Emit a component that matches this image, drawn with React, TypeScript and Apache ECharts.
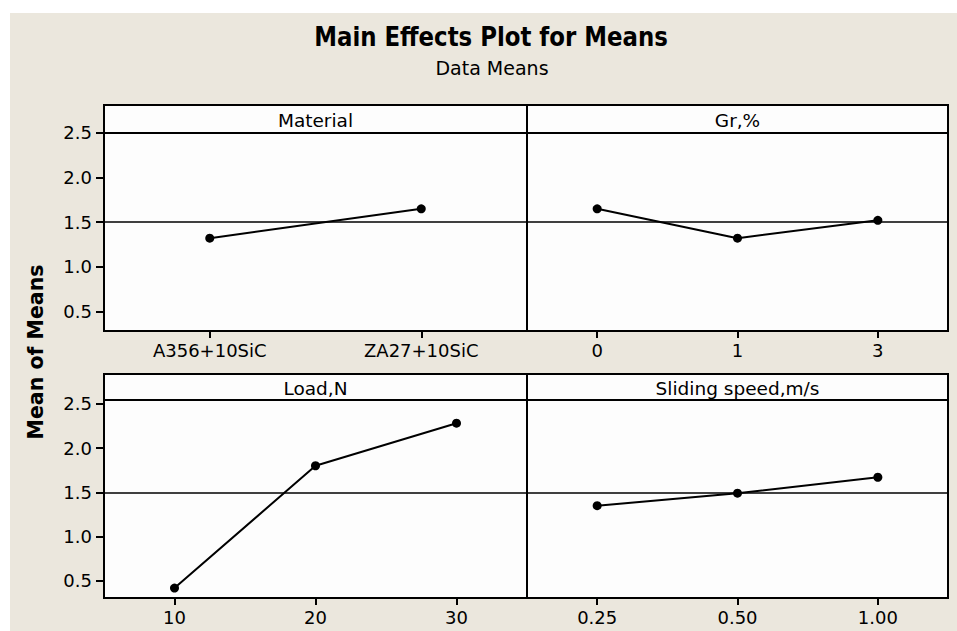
import React, { useEffect, useRef } from "react";
import * as echarts from "echarts";

const materialLevels = ["A356+10SiC", "ZA27+10SiC"];
const materialMeans = [1.32, 1.65];
const grLevels = ["0", "1", "3"];
const grMeans = [1.65, 1.32, 1.52];
const loadLevels = ["10", "20", "30"];
const loadMeans = [0.42, 1.8, 2.28];
const speedLevels = ["0.25", "0.50", "1.00"];
const speedMeans = [1.35, 1.49, 1.67];
const grandMean = 1.495;
const yTickValues = [0.5, 1.0, 1.5, 2.0, 2.5];
const panelTitles = ["Material", "Gr,%", "Load,N", "Sliding speed,m/s"];

const FONT = "'DejaVu Sans', Verdana, sans-serif";

export default function App() {
  const ref = useRef<HTMLDivElement>(null);

  useEffect(() => {
    if (!ref.current) return;
    const chart = echarts.init(ref.current, undefined, { renderer: "svg" });

    const levels = [materialLevels, grLevels, loadLevels, speedLevels];
    const means = [materialMeans, grMeans, loadMeans, speedMeans];

    const grids = [
      { left: 94, top: 92, width: 423, height: 226 },
      { left: 517, top: 92, width: 421, height: 226 },
      { left: 94, top: 361, width: 423, height: 224 },
      { left: 517, top: 361, width: 421, height: 224 },
    ];
    const yRanges = [
      [0.279, 2.814],
      [0.279, 2.814],
      [0.308, 2.835],
      [0.308, 2.835],
    ];
    const headerH = [28, 28, 26, 26];

    const option: any = {
      animation: false,
      backgroundColor: "#ebe7dd",
      textStyle: { fontFamily: FONT },
      grid: grids.map((g) => ({
        ...g,
        show: true,
        backgroundColor: "#fdfdfd",
        borderColor: "#000",
        borderWidth: 2,
        containLabel: false,
      })),
      xAxis: levels.map((lv, i) => ({
        type: "category",
        gridIndex: i,
        data: lv,
        boundaryGap: true,
        axisLine: { show: true, lineStyle: { color: "#000", width: 2 } },
        axisTick: {
          show: true,
          alignWithLabel: true,
          length: 7,
          interval: 0,
          lineStyle: { color: "#000", width: 2 },
        },
        axisLabel: {
          interval: 0,
          color: "#000",
          fontSize: 18,
          fontFamily: FONT,
          margin: 10,
        },
        splitLine: { show: false },
      })),
      yAxis: levels.map((_, i) => {
        const left = i % 2 === 0;
        return {
          type: "value",
          gridIndex: i,
          min: yRanges[i][0],
          max: yRanges[i][1],
          axisLine: { show: true, lineStyle: { color: "#000", width: 2 } },
          axisTick: {
            show: left,
            length: 8,
            customValues: yTickValues,
            lineStyle: { color: "#000", width: 2 },
          },
          axisLabel: {
            show: left,
            customValues: yTickValues,
            formatter: (v: number) => v.toFixed(1),
            color: "#000",
            fontSize: 18,
            fontFamily: FONT,
            margin: 12,
          },
          splitLine: { show: false },
        };
      }),
      series: means.map((m, i) => ({
        type: "line",
        xAxisIndex: i,
        yAxisIndex: i,
        data: m,
        symbol: "circle",
        symbolSize: 9,
        itemStyle: { color: "#000" },
        lineStyle: { color: "#000", width: 2 },
        z: 5,
        markLine: {
          silent: true,
          symbol: "none",
          label: { show: false },
          lineStyle: { color: "#000", type: "solid", width: 1.5 },
          data: [{ yAxis: grandMean }],
        },
      })),
      graphic: [
        {
          type: "text",
          x: 481,
          y: 24,
          scaleX: 0.88,
          style: {
            text: "Main Effects Plot for Means",
            fontSize: 26,
            fontWeight: "bold",
            fontFamily: FONT,
            fill: "#000",
            textAlign: "center",
            verticalAlign: "middle",
            textVerticalAlign: "middle",
          },
        },
        {
          type: "text",
          x: 482,
          y: 55,
          style: {
            text: "Data Means",
            fontSize: 19,
            fontFamily: FONT,
            fill: "#000",
            textAlign: "center",
            verticalAlign: "middle",
            textVerticalAlign: "middle",
          },
        },
        {
          type: "text",
          x: 26,
          y: 339,
          rotation: Math.PI / 2,
          style: {
            text: "Mean of Means",
            fontSize: 20.5,
            fontWeight: "bold",
            fontFamily: FONT,
            fill: "#000",
            textAlign: "center",
            verticalAlign: "middle",
            textVerticalAlign: "middle",
          },
        },
        ...grids.map((g, i) => ({
          type: "line",
          z: 10,
          shape: {
            x1: g.left,
            y1: g.top + headerH[i],
            x2: g.left + g.width,
            y2: g.top + headerH[i],
          },
          style: { stroke: "#000", lineWidth: 2 },
        })),
        ...grids.map((g, i) => ({
          type: "text",
          z: 10,
          x: g.left + g.width / 2,
          y: g.top + headerH[i] / 2 + 1,
          style: {
            text: panelTitles[i],
            fontSize: 18.5,
            fontFamily: FONT,
            fill: "#000",
            textAlign: "center",
            verticalAlign: "middle",
            textVerticalAlign: "middle",
          },
        })),
      ],
    };

    chart.setOption(option);
    return () => chart.dispose();
  }, []);

  return (
    <div
      style={{
        position: "absolute",
        left: 0,
        top: 0,
        width: 957,
        height: 631,
        background: "#ffffff",
      }}
    >
      <div
        ref={ref}
        style={{ position: "absolute", left: 10, top: 13, width: 947, height: 618 }}
      />
    </div>
  );
}
